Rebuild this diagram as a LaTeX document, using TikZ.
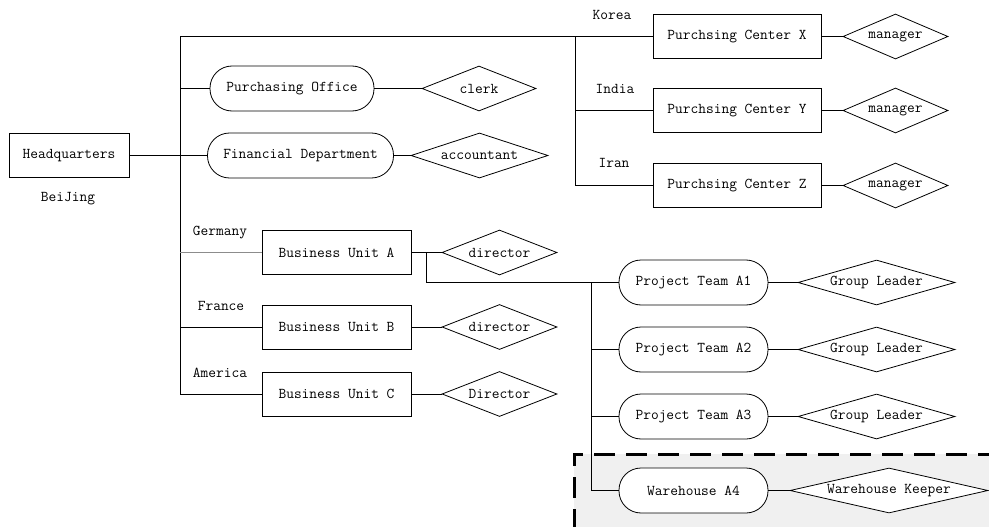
\documentclass[tikz,border=0pt]{standalone}
\usepackage{tikz}
\usetikzlibrary{shapes.geometric}
\tikzset{
	unitbox/.style={draw, fill=white, rectangle, inner sep=0pt, minimum height=44pt},
	teambox/.style={draw, fill=white, rectangle, rounded corners=22pt, inner sep=0pt, minimum height=45pt},
	rolebox/.style={draw, fill=white, diamond, aspect=4, inner sep=0pt, minimum height=45pt},
	place/.style={inner sep=0pt},
}

\begin{document}
\begin{tikzpicture}[x=1pt, y=-1pt, line width=0.8pt, font=\ttfamily\fontsize{15}{17}\selectfont]
		%%%%% START %%%%%
		\useasboundingbox (0, 0) rectangle (989, 527);
		\fill[black!6] (574, 454) rectangle (992, 530);
		\draw[line width=3pt, dash pattern=on 21pt off 11pt] (574, 530) -- (574, 454) -- (992, 454);
		
		\node[unitbox, minimum width=120pt] (hq) at (69, 155.5) {Headquarters};
		\node[place] (beijing) at (68, 199) {BeiJing};
		
		\node[teambox, minimum width=164pt] (office) at (292, 88.5) {Purchasing Office};
		\node[rolebox, minimum width=114pt] (clerk) at (479, 88.5) {clerk};
		\node[teambox, minimum width=186pt] (finance) at (300.5, 155.5) {Financial Department};
		\node[rolebox, minimum width=137pt] (accountant) at (479.5, 155.5) {accountant};
		
		\node[unitbox, minimum width=168pt] (centerX) at (737, 36.5) {Purchsing Center X};
		\node[unitbox, minimum width=168pt] (centerY) at (737, 110.5) {Purchsing Center Y};
		\node[unitbox, minimum width=168pt] (centerZ) at (737, 185.5) {Purchsing Center Z};
		\node[rolebox, minimum width=105pt] (managerX) at (895.5, 36.5) {manager};
		\node[rolebox, minimum width=105pt] (managerY) at (895.5, 110.5) {manager};
		\node[rolebox, minimum width=105pt] (managerZ) at (895.5, 185.5) {manager};
		\node[place] (korea) at (612, 15) {Korea};
		\node[place] (india) at (615, 89) {India};
		\node[place] (iran) at (614, 163) {Iran};
		
		\node[unitbox, minimum width=149pt] (unitA) at (336.5, 252.5) {Business Unit A};
		\node[unitbox, minimum width=149pt] (unitB) at (336.5, 327) {Business Unit B};
		\node[unitbox, minimum width=149pt] (unitC) at (336.5, 394) {Business Unit C};
		\node[rolebox, minimum width=115pt] (directorA) at (499.5, 252.5) {director};
		\node[rolebox, minimum width=115pt] (directorB) at (499.5, 327) {director};
		\node[rolebox, minimum width=115pt] (directorC) at (499.5, 394) {Director};
		\node[place] (germany) at (220, 233) {Germany};
		\node[place] (france) at (221, 306) {France};
		\node[place] (america) at (220, 373) {America};
		
		\node[teambox, minimum width=149pt] (teamA1) at (693.5, 282.5) {Project Team A1};
		\node[teambox, minimum width=149pt] (teamA2) at (693.5, 349.5) {Project Team A2};
		\node[teambox, minimum width=149pt] (teamA3) at (693.5, 416.5) {Project Team A3};
		\node[teambox, minimum width=149pt] (storeA4) at (693.5, 490.5) {Warehouse A4};
		\node[rolebox, minimum width=157pt] (leaderA1) at (876.5, 282.5) {Group Leader};
		\node[rolebox, minimum width=157pt] (leaderA2) at (876.5, 349.5) {Group Leader};
		\node[rolebox, minimum width=157pt] (leaderA3) at (876.5, 416.5) {Group Leader};
		\node[rolebox, minimum width=198pt] (keeper) at (889, 490.5) {Warehouse Keeper};
		
		% trunk from headquarters
		\coordinate (trunk) at (180, 36.5);
		\draw (hq.east) -- (finance.west);
		\draw (centerX.west) -- (trunk) |- (unitC.west);
		\draw (trunk |- office.west) -- (office.west);
		\draw[black!45] (trunk |- unitA.west) -- (unitA.west);
		\draw (trunk |- unitB.west) -- (unitB.west);
		
		% purchasing centers
		\coordinate (abroad) at (575, 36.5);
		\draw (abroad) |- (centerZ.west);
		\draw (abroad |- centerY.west) -- (centerY.west);
		
		% project teams of unit A
		\coordinate (unitAfork) at (426, 252.5);
		\coordinate (teamfork) at (591, 282.5);
		\draw (unitAfork) |- (teamA1.west);
		\draw (teamfork) |- (storeA4.west);
		\draw (teamfork |- teamA2.west) -- (teamA2.west);
		\draw (teamfork |- teamA3.west) -- (teamA3.west);
		
		% roles
		\draw (office.east) -- (clerk.west);
		\draw (finance.east) -- (accountant.west);
		\draw (centerX.east) -- (managerX.west);
		\draw (centerY.east) -- (managerY.west);
		\draw (centerZ.east) -- (managerZ.west);
		\draw (unitA.east) -- (directorA.west);
		\draw (unitB.east) -- (directorB.west);
		\draw (unitC.east) -- (directorC.west);
		\draw (teamA1.east) -- (leaderA1.west);
		\draw (teamA2.east) -- (leaderA2.west);
		\draw (teamA3.east) -- (leaderA3.west);
		\draw (storeA4.east) -- (keeper.west);
		%%%%% END %%%%%
	\end{tikzpicture}
\end{document}
